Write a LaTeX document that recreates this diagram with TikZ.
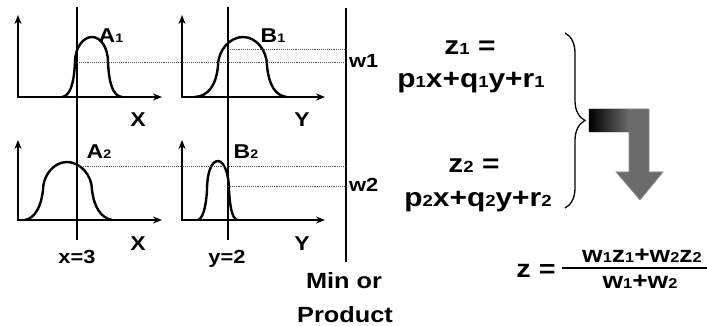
\documentclass[tikz,border=0pt]{standalone}
\usepackage{fontspec}
\setmainfont{Liberation Sans}
\newfontfamily\lblfont{Liberation Sans Bold}[FakeStretch=1.15]
\usetikzlibrary{arrows.meta,decorations.pathreplacing,positioning}
\newcommand{\idx}[1]{\scalebox{0.62}{#1}}
\definecolor{arrowgray}{rgb}{0.42,0.42,0.42}
\tikzset{
	axis_pair/.style={{Stealth[length=9pt,width=7pt]}-{Stealth[length=9pt,width=7pt]}, line width=2.6pt},
	bell/.style={line width=2.4pt, line join=round},
	guide/.style={line width=1.2pt},
	dotline/.style={densely dotted, line width=0.9pt, black!70},
	lbl/.style={font=\lblfont\fontsize{20}{20}\selectfont, inner sep=0pt, anchor=base},
	small_lbl/.style={font=\lblfont\fontsize{19}{19}\selectfont, inner sep=0pt, anchor=base},
	eq/.style={font=\lblfont\fontsize{26}{26}\selectfont, inner sep=0pt, anchor=base},
	frac_part/.style={font=\lblfont\fontsize{23}{23}\selectfont, inner sep=0pt, anchor=base}
}

\begin{document}
\begin{tikzpicture}[x=1pt,y=-1pt]
	\useasboundingbox (0,0) rectangle (707,326);
	% axes
	\draw[axis_pair] (18,15) |- (162,97);
	\draw[axis_pair] (182,15) |- (325,97);
	\draw[axis_pair] (18,140) |- (162,220);
	\draw[axis_pair] (182,140) |- (325,220);
	% input lines and min line
	\draw[guide] (77,7) -- (77,240);
	\draw[guide] (228,7) -- (228,240);
	\draw[line width=2.4pt] (346,8) -- (346,262);
	\coordinate (w1top) at (346,49);
	\coordinate (w1) at (346,62);
	\coordinate (w2top) at (346,166);
	\coordinate (w2) at (346,186);
	% membership functions
	\draw[bell] (62,97) .. controls (70,96) and (74,84) .. (75,62)
		.. controls (75,48) and (83,37) .. (92,37)
		.. controls (101,37) and (108,48) .. (108,62)
		.. controls (109,84) and (113,96) .. (122,97);
	\draw[bell] (195,97) .. controls (208,96) and (216,86) .. (218,66)
		.. controls (218,50) and (230,37) .. (243,37)
		.. controls (256,37) and (267,50) .. (267,66)
		.. controls (269,86) and (276,96) .. (287,97);
	\draw[bell] (25,220) .. controls (35,218) and (41,207) .. (43,190)
		.. controls (43,175) and (54,162) .. (67,162)
		.. controls (80,162) and (92,175) .. (92,190)
		.. controls (94,207) and (101,218) .. (112,220);
	\draw[bell] (198,220) .. controls (203,218) and (206,207) .. (207,190)
		.. controls (207,174) and (211,161) .. (218,161)
		.. controls (224,161) and (229,174) .. (229,190)
		.. controls (230,207) and (232,218) .. (237,220);
	% firing strengths
	\draw[dotline] (77,62) -- (w1);
	\draw[dotline] (228,49) -- (w1top);
	\draw[dotline] (77,166) -- (w2top);
	\draw[dotline] (228,186) -- (w2);
	% labels
	\node[lbl] (a1) at (111,43) {A\idx{1}};
	\node[lbl] (b1) at (273,43) {B\idx{1}};
	\node[lbl] (a2) at (99,159) {A\idx{2}};
	\node[lbl] (b2) at (246,159) {B\idx{2}};
	\node[lbl] (xa) at (138,127) {X};
	\node[lbl] (ya) at (302,127) {Y};
	\node[lbl] (xb) at (138,250) {X};
	\node[lbl] (yb) at (302,250) {Y};
	\node[small_lbl] (xval) at (77,263) {x=3};
	\node[small_lbl] (yval) at (227,263) {y=2};
	\node[small_lbl, anchor=base west] (w1lbl) at ([shift={(3,6)}]w1) {w1};
	\node[small_lbl, anchor=base west] (w2lbl) at ([shift={(3,6)}]w2) {w2};
	\node[lbl, font=\lblfont\fontsize{22}{22}\selectfont] (minlbl) at (344,288) {Min or};
	\node[lbl, font=\lblfont\fontsize{22}{22}\selectfont] (prodlbl) at (345,322) {Product};
	% rule outputs
	\node[eq] (z1) at (470,55) {z\idx{1} =};
	\node[eq] (f1) at (471,88) {p\idx{1}x+q\idx{1}y+r\idx{1}};
	\node[eq] (z2) at (474,173) {z\idx{2} =};
	\node[eq] (f2) at (478,207) {p\idx{2}x+q\idx{2}y+r\idx{2}};
	\draw[decorate, decoration={brace, amplitude=20pt}, line width=1.3pt] (565,33) -- (565,208);
	% bent arrow
	\fill[arrowgray, draw=black!45, line width=0.6pt] (589,109) -- (649,109) -- (649,172) -- (663,172)
		-- (640,200) -- (616,172) -- (629,172) -- (629,132) -- (589,132) -- cycle;
	\shade[left color=black, right color=arrowgray] (589.3,109.3) rectangle (629,131.7);
	% weighted average
	\node[eq, font=\lblfont\fontsize{25}{25}\selectfont] (z) at (536,277) {z =};
	\draw[line width=1.5pt] (562,268) -- (707,268);
	\node[frac_part] (num) at (642,262) {w\idx{1}z\idx{1}+w\idx{2}z\idx{2}};
	\node[frac_part] (den) at (640,288) {w\idx{1}+w\idx{2}};
\end{tikzpicture}
\end{document}
